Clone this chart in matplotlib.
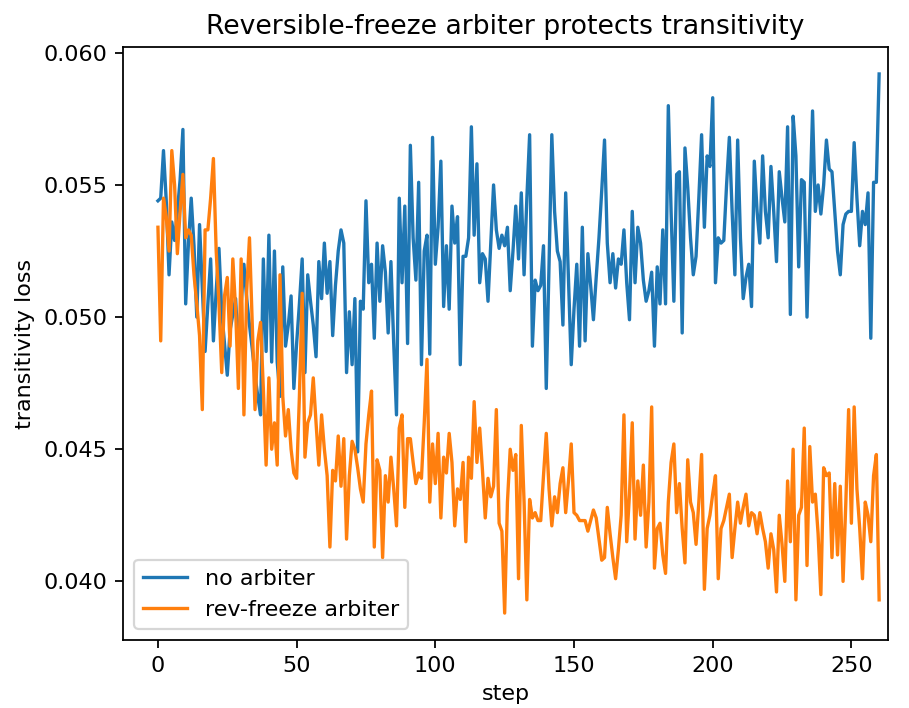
import numpy as np
import matplotlib
matplotlib.use("Agg")
import matplotlib.pyplot as plt
from matplotlib.ticker import MultipleLocator

# transitivity loss per step
no_arbiter = [
    0.0544, 0.0545, 0.0563, 0.0544, 0.0516, 0.0536, 0.0529, 0.0540, 0.0552, 0.0571,
    0.0505, 0.0528, 0.0545, 0.0527, 0.0500, 0.0535, 0.0511, 0.0487, 0.0505, 0.0522,
    0.0491, 0.0510, 0.0526, 0.0502, 0.0490, 0.0478, 0.0495, 0.0501, 0.0507, 0.0487,
    0.0505, 0.0520, 0.0507, 0.0497, 0.0488, 0.0478, 0.0470, 0.0463, 0.0522, 0.0487,
    0.0531, 0.0483, 0.0525, 0.0483, 0.0470, 0.0519, 0.0489, 0.0497, 0.0508, 0.0473,
    0.0490, 0.0505, 0.0522, 0.0479, 0.0516, 0.0506, 0.0497, 0.0485, 0.0521, 0.0507,
    0.0528, 0.0509, 0.0521, 0.0493, 0.0512, 0.0525, 0.0533, 0.0528, 0.0479, 0.0502,
    0.0482, 0.0507, 0.0449, 0.0506, 0.0503, 0.0544, 0.0513, 0.0520, 0.0492, 0.0528,
    0.0506, 0.0527, 0.0517, 0.0494, 0.0521, 0.0490, 0.0463, 0.0545, 0.0513, 0.0542,
    0.0490, 0.0565, 0.0530, 0.0514, 0.0551, 0.0482, 0.0525, 0.0531, 0.0486, 0.0568,
    0.0520, 0.0534, 0.0559, 0.0504, 0.0527, 0.0503, 0.0542, 0.0528, 0.0538, 0.0482,
    0.0523, 0.0523, 0.0530, 0.0572, 0.0531, 0.0558, 0.0513, 0.0524, 0.0522, 0.0506,
    0.0528, 0.0550, 0.0533, 0.0526, 0.0531, 0.0527, 0.0534, 0.0510, 0.0525, 0.0542,
    0.0522, 0.0547, 0.0516, 0.0545, 0.0569, 0.0489, 0.0514, 0.0510, 0.0512, 0.0527,
    0.0473, 0.0520, 0.0569, 0.0540, 0.0525, 0.0521, 0.0497, 0.0547, 0.0515, 0.0482,
    0.0503, 0.0520, 0.0489, 0.0534, 0.0491, 0.0524, 0.0512, 0.0499, 0.0515, 0.0530,
    0.0548, 0.0567, 0.0528, 0.0513, 0.0524, 0.0511, 0.0522, 0.0520, 0.0533, 0.0513,
    0.0499, 0.0540, 0.0513, 0.0534, 0.0528, 0.0514, 0.0506, 0.0510, 0.0517, 0.0489,
    0.0519, 0.0505, 0.0533, 0.0505, 0.0580, 0.0540, 0.0506, 0.0554, 0.0555, 0.0494,
    0.0564, 0.0549, 0.0530, 0.0516, 0.0523, 0.0545, 0.0569, 0.0534, 0.0561, 0.0557,
    0.0583, 0.0513, 0.0530, 0.0528, 0.0529, 0.0550, 0.0568, 0.0540, 0.0516, 0.0567,
    0.0530, 0.0507, 0.0515, 0.0520, 0.0504, 0.0559, 0.0540, 0.0528, 0.0561, 0.0540,
    0.0530, 0.0557, 0.0540, 0.0521, 0.0555, 0.0545, 0.0536, 0.0572, 0.0501, 0.0576,
    0.0561, 0.0519, 0.0552, 0.0551, 0.0500, 0.0540, 0.0578, 0.0540, 0.0550, 0.0539,
    0.0550, 0.0567, 0.0556, 0.0555, 0.0540, 0.0525, 0.0516, 0.0535, 0.0539, 0.0540,
    0.0540, 0.0566, 0.0545, 0.0527, 0.0540, 0.0535, 0.0547, 0.0492, 0.0551, 0.0551,
    0.0592,
]

rev_freeze = [
    0.0534, 0.0491, 0.0545, 0.0538, 0.0525, 0.0563, 0.0550, 0.0524, 0.0540, 0.0554,
    0.0530, 0.0533, 0.0531, 0.0516, 0.0505, 0.0493, 0.0465, 0.0533, 0.0533, 0.0545,
    0.0560, 0.0525, 0.0505, 0.0479, 0.0508, 0.0515, 0.0489, 0.0522, 0.0503, 0.0473,
    0.0522, 0.0463, 0.0510, 0.0530, 0.0498, 0.0465, 0.0491, 0.0498, 0.0473, 0.0444,
    0.0477, 0.0450, 0.0460, 0.0444, 0.0516, 0.0470, 0.0455, 0.0465, 0.0450, 0.0441,
    0.0439, 0.0470, 0.0509, 0.0447, 0.0460, 0.0463, 0.0477, 0.0460, 0.0444, 0.0463,
    0.0450, 0.0440, 0.0413, 0.0442, 0.0438, 0.0455, 0.0436, 0.0454, 0.0416, 0.0440,
    0.0453, 0.0450, 0.0443, 0.0435, 0.0430, 0.0452, 0.0463, 0.0472, 0.0413, 0.0446,
    0.0442, 0.0409, 0.0440, 0.0430, 0.0447, 0.0435, 0.0421, 0.0458, 0.0463, 0.0428,
    0.0454, 0.0454, 0.0445, 0.0437, 0.0441, 0.0439, 0.0460, 0.0484, 0.0430, 0.0452,
    0.0437, 0.0456, 0.0424, 0.0447, 0.0441, 0.0456, 0.0445, 0.0421, 0.0435, 0.0431,
    0.0445, 0.0415, 0.0447, 0.0439, 0.0468, 0.0445, 0.0458, 0.0442, 0.0424, 0.0439,
    0.0432, 0.0436, 0.0465, 0.0422, 0.0419, 0.0388, 0.0430, 0.0450, 0.0442, 0.0448,
    0.0401, 0.0459, 0.0430, 0.0393, 0.0431, 0.0424, 0.0426, 0.0423, 0.0423, 0.0440,
    0.0456, 0.0435, 0.0421, 0.0432, 0.0426, 0.0437, 0.0443, 0.0426, 0.0438, 0.0452,
    0.0426, 0.0425, 0.0423, 0.0423, 0.0423, 0.0419, 0.0423, 0.0427, 0.0424, 0.0416,
    0.0408, 0.0409, 0.0428, 0.0418, 0.0409, 0.0401, 0.0412, 0.0425, 0.0463, 0.0415,
    0.0433, 0.0460, 0.0416, 0.0438, 0.0425, 0.0444, 0.0413, 0.0430, 0.0466, 0.0405,
    0.0420, 0.0422, 0.0410, 0.0403, 0.0430, 0.0445, 0.0452, 0.0426, 0.0437, 0.0420,
    0.0407, 0.0446, 0.0430, 0.0426, 0.0414, 0.0430, 0.0448, 0.0397, 0.0420, 0.0425,
    0.0433, 0.0440, 0.0401, 0.0420, 0.0423, 0.0428, 0.0433, 0.0409, 0.0420, 0.0430,
    0.0422, 0.0428, 0.0433, 0.0421, 0.0426, 0.0425, 0.0418, 0.0426, 0.0420, 0.0415,
    0.0405, 0.0418, 0.0412, 0.0396, 0.0425, 0.0414, 0.0400, 0.0438, 0.0415, 0.0450,
    0.0393, 0.0425, 0.0428, 0.0458, 0.0406, 0.0451, 0.0430, 0.0433, 0.0418, 0.0395,
    0.0443, 0.0440, 0.0441, 0.0409, 0.0437, 0.0410, 0.0436, 0.0400, 0.0430, 0.0465,
    0.0422, 0.0466, 0.0435, 0.0420, 0.0401, 0.0430, 0.0425, 0.0415, 0.0440, 0.0448,
    0.0393,
]

steps = np.arange(len(no_arbiter))

fig, ax = plt.subplots(figsize=(909 / 160, 708 / 160), dpi=160)
fig.subplots_adjust(left=0.1353, right=0.9769, top=0.9336, bottom=0.096)

ax.plot(steps, no_arbiter, label="no arbiter")
ax.plot(steps, rev_freeze, label="rev-freeze arbiter")
ax.set_title("Reversible-freeze arbiter protects transitivity")
ax.set_xlabel("step")
ax.set_ylabel("transitivity loss")
ax.set_xlim(-12.6, 263.2)
ax.yaxis.set_major_locator(MultipleLocator(0.005))
ax.legend(loc="lower left")

fig.savefig("out.png", dpi=160)
